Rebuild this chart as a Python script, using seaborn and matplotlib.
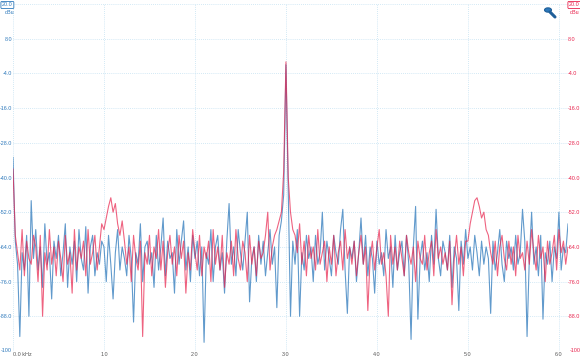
import numpy as np
import pandas as pd
import matplotlib
matplotlib.use("Agg")
import matplotlib.pyplot as plt
import seaborn as sns

# spectrum bins, 0.025 kHz apart (dBu)
freq_step_khz = 0.025

blue_dbu = [
    -33, -62, -70, -95, -66, -72, -60, -88, -48, -68,
    -58, -72, -64, -78, -56, -70, -66, -82, -62, -68,
    -60, -74, -66, -56, -78, -64, -70, -62, -76, -58,
    -68, -72, -57, -80, -64, -60, -74, -66, -70, -62,
    -64, -76, -60, -70, -82, -66, -58, -72, -64, -68,
    -74, -60, -68, -90, -66, -70, -56, -76, -64, -62,
    -70, -66, -78, -60, -72, -64, -54, -74, -62, -68,
    -66, -80, -58, -70, -62, -55, -72, -64, -76, -60,
    -68, -62, -74, -64, -97, -66, -70, -58, -76, -64,
    -60, -72, -66, -80, -62, -49, -70, -64, -74, -58,
    -66, -72, -62, -52, -83, -68, -64, -76, -60, -70,
    -62, -74, -66, -58, -70, -64, -85, -60, -55, -46,
    -1, -44, -88, -62, -70, -58, -88, -66, -72, -60,
    -68, -64, -76, -60, -70, -66, -52, -72, -62, -68,
    -74, -60, -66, -70, -58, -51, -72, -87, -64, -68,
    -62, -76, -66, -54, -70, -60, -74, -64, -68, -80,
    -62, -70, -66, -74, -58, -68, -64, -78, -60, -72,
    -66, -62, -74, -60, -70, -96, -64, -50, -89, -68,
    -62, -72, -66, -76, -60, -70, -51, -68, -74, -62,
    -66, -72, -60, -78, -64, -68, -86, -62, -70, -58,
    -68, -64, -72, -60, -66, -74, -62, -70, -64, -68,
    -87, -62, -72, -66, -58, -70, -76, -62, -68, -64,
    -72, -60, -70, -66, -51, -62, -95, -68, -52, -70,
    -64, -74, -60, -89, -66, -70, -62, -76, -64, -68,
    -52, -72, -64, -66, -56,
]

red_dbu = [
    -37, -60, -66, -72, -58, -74, -62, -68, -70, -60,
    -64, -76, -60, -88, -66, -72, -58, -70, -64, -74,
    -62, -68, -76, -60, -70, -66, -80, -58, -72, -64,
    -68, -62, -74, -58, -70, -66, -60, -72, -64, -56,
    -58, -54, -50, -47, -52, -49, -56, -60, -55, -62,
    -70, -64, -76, -60, -68, -72, -62, -95, -66, -70,
    -60, -74, -64, -68, -58, -72, -62, -78, -66, -60,
    -70, -64, -74, -60, -68, -62, -80, -66, -72, -58,
    -66, -72, -60, -74, -64, -68, -62, -76, -58, -70,
    -64, -72, -60, -78, -66, -70, -62, -74, -58, -68,
    -72, -62, -66, -76, -60, -70, -64, -74, -62, -68,
    -66, -60, -52, -72, -64, -60, -58, -55, -52, -38,
    0, -40, -52, -58, -60, -66, -56, -70, -62, -74,
    -60, -68, -64, -72, -58, -70, -66, -62, -76, -64,
    -70, -60, -74, -66, -62, -72, -58, -68, -64, -70,
    -62, -74, -66, -60, -70, -64, -86, -68, -62, -72,
    -64, -58, -70, -66, -74, -88, -60, -70, -64, -72,
    -62, -68, -74, -60, -66, -70, -64, -76, -62, -68,
    -70, -60, -72, -66, -62, -74, -58, -68, -64, -70,
    -66, -72, -62, -84, -68, -60, -70, -64, -74, -62,
    -62, -56, -52, -48, -47, -50, -54, -52, -58, -60,
    -66, -70, -62, -74, -64, -60, -68, -72, -62, -70,
    -64, -74, -60, -68, -66, -72, -62, -70, -58, -66,
    -72, -60, -68, -64, -76, -62, -70, -66, -60, -72,
    -58, -66, -62, -70, -64,
]

y_ticks = [20, 8, -4, -16, -28, -40, -52, -64, -76, -88, -100]
x_ticks = [0, 1, 2, 3, 4, 5, 6]
x_labels = ["0.0 kHz", "1.0", "2.0", "3.0", "4.0", "5.0", "6.0"]

BLUE = "#2c78bb"
RED = "#e8214b"
GRID = "#c4e2f2"
FS = 3.9

freq = np.arange(len(blue_dbu)) * freq_step_khz
df = pd.DataFrame({"freq": freq, "blue": blue_dbu, "red": red_dbu})

sns.set_theme(style="white")
plt.rcParams["font.family"] = ["Liberation Sans", "DejaVu Sans"]

fig = plt.figure(figsize=(5.8, 3.58), dpi=100)
ax = fig.add_axes([13 / 580, 7 / 358, 555 / 580, 347 / 358])

sns.lineplot(data=df, x="freq", y="blue", ax=ax, color=BLUE, lw=0.8, alpha=0.75)
sns.lineplot(data=df, x="freq", y="red", ax=ax, color=RED, lw=0.8, alpha=0.7)

ax.set_xlim(0, 6.1)
ax.set_ylim(-100, 20)
for s in ax.spines.values():
    s.set_visible(False)
ax.set_xlabel("")
ax.set_ylabel("")

ax.set_yticks(y_ticks)
ax.set_yticklabels([f"{v:.1f}" for v in y_ticks], fontsize=FS, color=BLUE)
ax.set_xticks(x_ticks)
ax.set_xticklabels(x_labels, fontsize=FS, color="#555555")
ax.tick_params(axis="y", length=0, pad=0.8)
ax.tick_params(axis="x", length=0, pad=0.5)
ax.get_xticklabels()[0].set_ha("left")
ax.grid(True, color=GRID, lw=0.6, ls=(0, (1, 1.5)))
ax.set_axisbelow(True)

ax2 = ax.twinx()
ax2.set_ylim(-100, 20)
ax2.set_yticks(y_ticks)
ax2.set_yticklabels([f"{v:.1f}" for v in y_ticks], fontsize=FS, color=RED)
ax2.tick_params(axis="y", length=0, pad=0)
for s in ax2.spines.values():
    s.set_visible(False)
ax2.grid(False)

# hide the plain 20.0 / -100 labels and draw them by hand
for a in (ax, ax2):
    a.get_yticklabels()[0].set_visible(False)
    a.get_yticklabels()[-1].set_visible(False)
fig.text(2 / 580, 1 - 5 / 358, "20.0", fontsize=FS, color=BLUE, va="center", ha="left",
         bbox=dict(boxstyle="round,pad=0.2", fc="white", ec=BLUE, lw=0.6))
fig.text(5 / 580, 1 - 13 / 358, "dBu", fontsize=FS, color=BLUE, va="center", ha="left")
fig.text(1 / 580, 1 - 351 / 358, "-100", fontsize=FS, color=BLUE, va="center", ha="left")
fig.text(569 / 580, 1 - 5 / 358, "20.0", fontsize=FS, color=RED, va="center", ha="left",
         bbox=dict(boxstyle="round,pad=0.2", fc="white", ec=RED, lw=0.6))
fig.text(570 / 580, 1 - 13 / 358, "dBu", fontsize=FS, color=RED, va="center", ha="left")
fig.text(570 / 580, 1 - 351 / 358, "-100", fontsize=FS, color=RED, va="center", ha="left")

# zoom icon
fig.add_artist(plt.Line2D([550 / 580, 555 / 580], [1 - 12 / 358, 1 - 17 / 358],
                          color="#1f5f99", lw=2.2, solid_capstyle="round"))
fig.add_artist(plt.Circle((548 / 580, 1 - 10 / 358), 0.006, transform=fig.transFigure,
                          fc="#2c78bb", ec="#1f5f99", lw=0.8))

fig.savefig("out.png", dpi=100)
plt.close(fig)
